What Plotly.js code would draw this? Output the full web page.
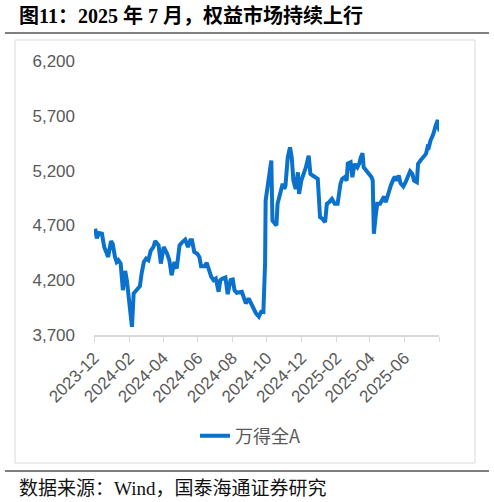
<!DOCTYPE html>
<html>
<head>
<meta charset="utf-8">
<script src="https://cdn.plot.ly/plotly-3.0.1.min.js"></script>
<style>
  html, body { margin: 0; padding: 0; background: #fff; }
  #chart { width: 494px; height: 502px; }
</style>
</head>
<body>
<div id="chart"></div>
<script>
// day offsets from 2023-12-01
const dayOffsets = [
  2, 5, 9, 14, 18, 22, 25, 30, 33, 37, 40, 43, 47, 51, 55, 58, 62, 67, 70, 75,
  81, 84, 88, 92, 96, 100, 105, 108, 114, 118, 123, 129, 133, 137, 142, 146, 151, 156, 161, 166,
  170, 173, 177, 182, 186, 189, 195, 199, 202, 207, 211, 215, 220, 223, 227, 232, 236, 241, 245, 248,
  252, 257, 261, 264, 268, 273, 278, 282, 286, 291, 295, 299, 302, 303, 308, 313, 315, 318, 322, 324,
  328, 333, 336, 338, 342, 346, 349, 352, 356, 360, 362, 366, 370, 374, 379, 382, 386, 390, 395, 399,
  403, 408, 411, 415, 420, 425, 430, 435, 438, 442, 446, 448, 453, 456, 460, 465, 468, 471, 474, 476,
  481, 485, 490, 492, 493, 494, 497, 500, 505, 509, 512, 515, 519, 524, 528, 531, 534, 538, 541, 546,
  550, 553, 558, 562, 565, 570, 572, 577, 582, 586, 589, 591, 594, 599, 603, 607, 610
]

// 万得全A index level
const windAllA = [
  4670, 4582, 4630, 4625, 4503, 4443, 4412, 4557, 4533, 4412, 4366, 4382, 4352, 4109, 4285, 4200, 4018, 3775, 4079, 4109,
  4145, 4261, 4366, 4397, 4382, 4467, 4503, 4557, 4518, 4352, 4503, 4443, 4382, 4245, 4366, 4306, 4518, 4548, 4570, 4503,
  4564, 4564, 4458, 4443, 4412, 4327, 4327, 4357, 4306, 4230, 4200, 4215, 4094, 4200, 4215, 4224, 4073, 4200, 4206, 4109,
  4085, 4094, 4094, 4048, 3988, 4033, 3973, 3933, 3897, 3867, 3912, 3910, 4352, 4927, 5109, 5291, 4745, 4730, 4700, 4897,
  4988, 5079, 5033, 5064, 5321, 5412, 5321, 5109, 5033, 5185, 4988, 5109, 5170, 5230, 5336, 5170, 5155, 5139, 5124, 4776,
  4761, 4730, 4897, 4912, 4942, 4897, 4897, 5079, 5124, 5139, 5109, 5264, 5276, 5139, 5261, 5230, 5261, 5321, 5358, 5230,
  5200, 5170, 5139, 5109, 4867, 4624, 4776, 4897, 4897, 4942, 4964, 4912, 4988, 5064, 5115, 5145, 5109, 5155, 5085, 5055,
  5094, 5133, 5194, 5170, 5109, 5094, 5261, 5297, 5321, 5352, 5418, 5412, 5473, 5533, 5609, 5661, 5558
]

const tickDates = ['2023-12-01', '2024-02-01', '2024-04-01', '2024-06-01', '2024-08-01', '2024-10-01',
  '2024-12-01', '2025-02-01', '2025-04-01', '2025-06-01', '2025-08-01']
const tickLabels = ['2023-12', '2024-02', '2024-04', '2024-06', '2024-08', '2024-10',
  '2024-12', '2025-02', '2025-04', '2025-06', '']

const seriesName = '万得全A'
const chartTitle = '图11：2025 年 7 月，权益市场持续上行'
const sourceNote = '数据来源：Wind，国泰海通证券研究'

const baseMs = Date.UTC(2023, 11, 1)
const dates = dayOffsets.map(d => new Date(baseMs + d * 864e5).toISOString().slice(0, 10))

// plot area in pixels: left 94, right 439, top 61, bottom 335
const L = 94
const R = 439
const T = 61
const B = 335
const px = x => (x - L) / (R - L)
const py = y => (B - y) / (B - T)

const grey = '#595959'
const sans = 'Liberation Sans, Arial, sans-serif'

const data = [{
  x: dates,
  y: windAllA,
  type: 'scatter',
  mode: 'lines',
  name: seriesName,
  line: { color: '#0a72cc', width: 4 }
}]

const layout = {
  width: 494,
  height: 502,
  margin: { l: L, r: 494 - R, t: T, b: 502 - B },
  paper_bgcolor: '#fff',
  plot_bgcolor: '#fff',
  showlegend: true,
  legend: {
    orientation: 'h',
    x: px(250),
    xanchor: 'center',
    y: py(436),
    yanchor: 'middle',
    font: { family: 'Noto Sans CJK SC, ' + sans, size: 18, color: grey }
  },
  xaxis: {
    type: 'date',
    range: ['2023-12-01', '2025-08-01'],
    tickmode: 'array',
    tickvals: tickDates,
    ticktext: tickLabels,
    tickangle: -45,
    ticks: 'outside',
    ticklen: 5,
    tickcolor: '#d9d9d9',
    showline: true,
    linecolor: '#d9d9d9',
    linewidth: 1.5,
    showgrid: false,
    zeroline: false,
    tickfont: { family: sans, size: 17, color: grey }
  },
  yaxis: {
    range: [3700, 6200],
    tickmode: 'linear',
    tick0: 3700,
    dtick: 500,
    tickformat: ',d',
    showgrid: false,
    zeroline: false,
    showline: false,
    ticks: '',
    ticklabelstandoff: 18,
    tickfont: { family: sans, size: 17, color: grey }
  },
  shapes: [
    { type: 'line', xref: 'paper', yref: 'paper', x0: px(5), x1: px(489), y0: py(33), y1: py(33), line: { color: '#000', width: 1 } },
    { type: 'rect', xref: 'paper', yref: 'paper', x0: px(15), x1: px(475), y0: py(40), y1: py(463), line: { color: '#d9d9d9', width: 1 }, layer: 'below' },
    { type: 'line', xref: 'paper', yref: 'paper', x0: px(5), x1: px(489), y0: py(471), y1: py(471), line: { color: '#000', width: 1 } }
  ],
  annotations: [
    {
      xref: 'paper', yref: 'paper', x: px(17), y: py(15), xanchor: 'left', yanchor: 'middle',
      showarrow: false, text: chartTitle,
      font: { family: 'Liberation Serif, Noto Sans CJK SC, serif', size: 20, color: '#000', weight: 'bold' }
    },
    {
      xref: 'paper', yref: 'paper', x: px(17), y: py(488), xanchor: 'left', yanchor: 'middle',
      showarrow: false, text: sourceNote,
      font: { family: 'Liberation Serif, Noto Sans CJK SC, serif', size: 19, color: '#111' }
    }
  ]
}

Plotly.newPlot('chart', data, layout, { displayModeBar: false, staticPlot: true })
</script>
</body>
</html>
